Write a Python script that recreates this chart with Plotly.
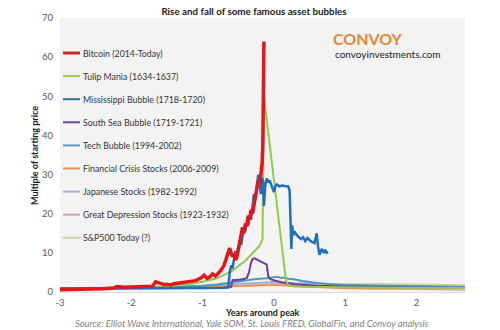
import plotly.graph_objects as go

# Years relative to each bubble's peak, and price as a multiple of the starting price
bitcoin_x = [-3.0, -2.8, -2.6, -2.4, -2.25, -2.2, -2.1, -2.0, -1.9, -1.8, -1.7, -1.66, -1.62, -1.58,
             -1.54, -1.5, -1.45, -1.4, -1.3, -1.2, -1.1, -1.02, -0.98, -0.94, -0.9, -0.86, -0.82,
             -0.78, -0.74, -0.7, -0.67, -0.64, -0.62, -0.6, -0.58, -0.56, -0.54, -0.52, -0.5,
             -0.48, -0.46, -0.44, -0.42, -0.4, -0.38, -0.36, -0.34, -0.32, -0.3, -0.28, -0.26,
             -0.24, -0.22, -0.2, -0.18, -0.165, -0.155, -0.15, -0.145, -0.14]
bitcoin_y = [0.6, 0.7, 0.6, 0.8, 1.0, 1.4, 1.2, 1.3, 1.2, 1.4, 1.5, 2.6, 2.4, 2.1,
             1.9, 2.0, 1.8, 2.1, 2.3, 2.6, 2.9, 3.6, 4.3, 3.5, 3.8, 4.6, 4.1,
             4.8, 5.6, 6.8, 8.6, 10.5, 11.2, 10.0, 9.0, 9.8, 8.2, 8.8, 10.5,
             12.5, 14.0, 16.5, 15.0, 17.5, 16.8, 19.5, 18.5, 21.0, 20.0, 22.5, 24.0,
             26.5, 28.5, 27.5, 30.5, 33.0, 38.0, 45.0, 55.0, 64.0]

tulip_x = [-3.0, -2.5, -2.0, -1.5, -1.2, -1.0, -0.8, -0.6, -0.4, -0.2, -0.16, -0.14, 0.17, 0.21,
           0.3, 0.6, 1.0, 1.5, 2.0, 2.68]
tulip_y = [0.9, 1.0, 1.1, 1.5, 2.0, 2.6, 3.5, 5.2, 8.0, 11.8, 13.5, 50.0, 2.8, 1.6,
           1.4, 1.3, 1.2, 1.1, 1.0, 1.0]

mississippi_x = [-3.0, -2.0, -1.0, -0.7, -0.64, -0.62, -0.6, -0.58, -0.56, -0.54, -0.52, -0.5,
                 -0.48, -0.46, -0.44, -0.42, -0.4, -0.38, -0.36, -0.34, -0.32, -0.3, -0.28,
                 -0.26, -0.24, -0.22, -0.2, -0.18, -0.16, -0.15, -0.14, -0.12, -0.1, -0.08,
                 -0.06, -0.03, 0.0, 0.02, 0.04, 0.08, 0.12, 0.16, 0.2, 0.22, 0.235, 0.245,
                 0.255, 0.27, 0.29, 0.32, 0.35, 0.38, 0.41, 0.44, 0.47, 0.5, 0.53, 0.57,
                 0.6, 0.62, 0.64, 0.67, 0.7, 0.72, 0.74, 0.76]
mississippi_y = [0.9, 0.9, 1.0, 1.1, 1.2, 5.0, 6.8, 6.0, 8.5, 10.5, 9.5, 11.0,
                 13.0, 12.0, 14.5, 16.5, 15.5, 18.0, 17.0, 19.5, 18.5, 22.0, 25.0,
                 24.0, 28.0, 30.0, 27.0, 25.0, 29.0, 28.0, 22.0, 27.5, 29.0, 28.0,
                 28.5, 27.0, 25.5, 27.0, 27.5, 27.0, 27.2, 27.0, 27.0, 26.0, 18.5, 11.0,
                 17.0, 14.5, 15.5, 14.5, 14.0, 13.5, 14.0, 13.0, 13.8, 13.2, 12.8, 12.5,
                 15.0, 11.5, 9.5, 11.0, 10.0, 10.8, 10.0, 10.2]

south_sea_x = [-3.0, -2.0, -1.0, -0.7, -0.6, -0.58, -0.5, -0.42, -0.38, -0.35, -0.32, -0.3,
               -0.27, -0.24, -0.21, -0.18, -0.15, -0.12, -0.1, -0.08, -0.05, 0.0, 0.1, 0.3,
               0.6, 1.0, 1.5, 2.0, 2.68]
south_sea_y = [0.8, 0.9, 1.0, 1.1, 1.3, 3.0, 3.1, 3.3, 3.6, 5.0, 7.5, 8.4,
               8.6, 8.3, 8.0, 7.8, 7.4, 7.2, 7.0, 4.0, 3.3, 3.0, 2.5, 2.0,
               1.6, 1.4, 1.2, 1.1, 1.0]

tech_x = [-3.0, -2.5, -2.0, -1.5, -1.0, -0.8, -0.6, -0.5, -0.4, -0.3, -0.2, -0.1, 0.0, 0.05,
          0.1, 0.15, 0.2, 0.3, 0.4, 0.5, 0.6, 0.8, 1.0, 1.4, 1.8, 2.2, 2.68]
tech_y = [0.9, 1.0, 1.1, 1.3, 1.6, 1.9, 2.4, 2.7, 3.0, 3.2, 3.4, 3.5, 3.8, 3.9,
          3.6, 3.7, 3.4, 3.2, 2.8, 2.5, 2.3, 2.0, 1.8, 1.6, 1.5, 1.4, 1.3]

financial_x = [-3.0, -2.5, -2.0, -1.5, -1.0, -0.5, -0.2, 0.0, 0.3, 0.6, 1.0, 1.5, 2.0, 2.68]
financial_y = [0.8, 0.9, 1.0, 1.1, 1.3, 1.5, 1.7, 1.8, 1.5, 1.2, 0.9, 0.8, 0.9, 1.0]

japanese_x = [-3.0, -2.5, -2.0, -1.5, -1.0, -0.5, -0.2, 0.0, 0.3, 0.6, 1.0, 1.5, 2.0, 2.68]
japanese_y = [0.8, 0.9, 1.0, 1.2, 1.5, 2.0, 2.4, 2.6, 2.3, 2.1, 1.9, 1.7, 1.5, 1.4]

depression_x = [-3.0, -2.5, -2.0, -1.5, -1.0, -0.5, -0.2, 0.0, 0.3, 0.6, 1.0, 1.5, 2.0, 2.68]
depression_y = [0.7, 0.8, 0.9, 1.0, 1.2, 1.6, 2.0, 2.2, 1.9, 1.6, 1.3, 1.0, 0.7, 0.5]

sp500_x = [-3.0, -2.5, -2.0, -1.5, -1.0, -0.5, 0.0, 0.3, 0.6, 1.0, 1.5, 2.0, 2.68]
sp500_y = [0.9, 1.0, 1.1, 1.2, 1.3, 1.5, 1.8, 1.9, 1.9, 2.0, 2.0, 1.9, 1.8]

series_names = ["Bitcoin (2014-Today)", "Tulip Mania (1634-1637)", "Mississippi Bubble (1718-1720)",
                "South Sea Bubble (1719-1721)", "Tech Bubble (1994-2002)",
                "Financial Crisis Stocks (2006-2009)", "Japanese Stocks (1982-1992)",
                "Great Depression Stocks (1923-1932)", "S&P500 Today (?)"]
series_x = [bitcoin_x, tulip_x, mississippi_x, south_sea_x, tech_x,
            financial_x, japanese_x, depression_x, sp500_x]
series_y = [bitcoin_y, tulip_y, mississippi_y, south_sea_y, tech_y,
            financial_y, japanese_y, depression_y, sp500_y]
line_colors = ["#e3161c", "#92c84c", "#1f6fbd", "#7436a8", "#4a9bb0",
               "#eb9055", "#8fb0d4", "#e0a2b4", "#c5d29a"]
legend_colors = ["#c8282c", "#9bc955", "#2e6f9e", "#7040a8", "#5b9bbd",
                 "#e8935a", "#9ab4d0", "#e0a0b0", "#c8d4a0"]
line_widths = [3.5, 2, 2.5, 2, 2, 1.6, 1.6, 1.6, 1.6]

x_ticks = [-3, -2, -1, 0, 1, 2]
y_ticks = [0, 10, 20, 30, 40, 50, 60, 70]

fig = go.Figure()

# Draw the quiet series first so the big bubbles sit on top
draw_order = [8, 7, 6, 5, 4, 3, 1, 2, 0]
for i in draw_order:
    fig.add_trace(go.Scatter(
        x=series_x[i], y=series_y[i], mode="lines", name=series_names[i],
        line=dict(color=line_colors[i], width=line_widths[i]),
        showlegend=False, hoverinfo="skip",
    ))

# Hand-built legend: short line sample plus label, stacked down the left side
plot_l, plot_r, plot_t, plot_b = 60, 465, 18, 292
pw, ph = plot_r - plot_l, plot_b - plot_t
shapes = []
annotations = []
for k, name in enumerate(series_names):
    py = 53 + k * 23.1
    yp = (plot_b - py) / ph
    shapes.append(dict(type="line", xref="paper", yref="paper",
                       x0=(63 - plot_l) / pw, x1=(80 - plot_l) / pw, y0=yp, y1=yp,
                       line=dict(color=legend_colors[k], width=3 if k == 0 else 2)))
    annotations.append(dict(text=name, xref="paper", yref="paper",
                            x=(81 - plot_l) / pw, y=yp, xanchor="left", yanchor="middle",
                            showarrow=False, font=dict(family="Lato", size=8.8, color="#333333")))

annotations += [
    dict(text="<b>CONVOY</b>", xref="paper", yref="paper", x=(331 - plot_l) / pw,
         y=(plot_b - 39) / ph, xanchor="left", yanchor="middle", showarrow=False,
         font=dict(family="Lato", size=16, color="#e3882f")),
    dict(text="convoyinvestments.com", xref="paper", yref="paper", x=(333 - plot_l) / pw,
         y=(plot_b - 54) / ph, xanchor="left", yanchor="middle", showarrow=False,
         font=dict(family="Lato", size=10, color="#1a1a1a")),
    dict(text="<b>Years around peak</b>", xref="paper", yref="paper", x=(262 - plot_l) / pw,
         y=(plot_b - 312) / ph, xanchor="center", yanchor="middle", showarrow=False,
         font=dict(family="Lato", size=9, color="#1a1a1a")),
    dict(text="<b>Multiple of starting price</b>", xref="paper", yref="paper",
         x=(35 - plot_l) / pw, y=(plot_b - 156) / ph, xanchor="center", yanchor="middle",
         textangle=-90, showarrow=False,
         font=dict(family="Lato", size=9, color="#1a1a1a")),
    dict(text="<i>Source: Elliot Wave International, Yale SOM, St. Louis FRED, GlobalFin, and Convoy analysis</i>",
         xref="paper", yref="paper", x=(252 - plot_l) / pw, y=(plot_b - 323) / ph,
         xanchor="center", yanchor="middle", showarrow=False,
         font=dict(family="Lato", size=9.4, color="#7f7f7f")),
]

fig.update_layout(
    width=500, height=330,
    margin=dict(l=plot_l, r=500 - plot_r, t=plot_t, b=330 - plot_b),
    paper_bgcolor="white", plot_bgcolor="#f3f3f3",
    title=dict(text="<b>Rise and fall of some famous asset bubbles</b>", x=254 / 500, xanchor="center",
               y=1 - 12 / 330, yanchor="middle",
               font=dict(family="Lato", size=9.8, color="#1a1a1a")),
    shapes=shapes, annotations=annotations,
    showlegend=False,
)
fig.update_xaxes(range=[-3, 2.68], tickvals=x_ticks, ticktext=[str(t) for t in x_ticks],
                 showgrid=False, zeroline=False, showline=True, linecolor="#dcdcdc",
                 ticks="", ticklabelstandoff=2,
                 tickfont=dict(family="Lato", size=9.5, color="#595959"))
fig.update_yaxes(range=[0, 70], tickvals=y_ticks, showgrid=False, zeroline=False,
                 showline=False, ticks="", ticklabelstandoff=6,
                 tickfont=dict(family="Lato", size=9.5, color="#595959"))

fig.write_html("out.html")
